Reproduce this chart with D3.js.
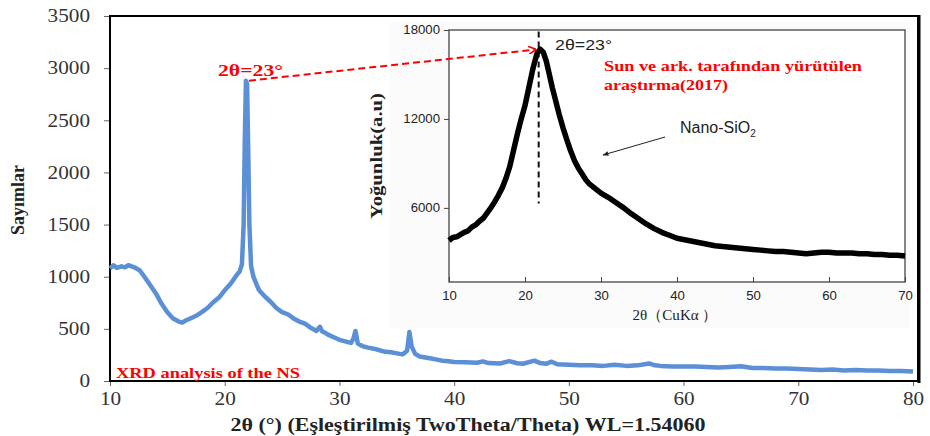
<!DOCTYPE html>
<html>
<head>
<meta charset="utf-8">
<script src="https://cdn.jsdelivr.net/npm/d3@7"></script>
<style>
  body { margin: 0; background: #fff; }
  svg { display: block; }
  .serif { font-family: "Liberation Serif", "Times New Roman", serif; }
  .sans { font-family: "Liberation Sans", Arial, sans-serif; }
</style>
</head>
<body>
<svg id="svg"></svg>
<script>
// colors
let blue = "#5b8fd6"
let red = "#ff0000"

// main XRD pattern
let mainX = [10, 10.3, 10.6, 11, 11.3, 11.6, 12, 12.3, 12.6, 13, 13.5, 14, 14.5, 15, 15.5, 16, 16.3, 16.6, 17, 17.5,
  18, 18.5, 19, 19.5, 20, 20.5, 21, 21.3, 21.5, 21.65, 21.75, 21.85, 21.95, 22.05, 22.15, 22.3, 22.5, 22.8, 23, 23.5,
  24, 24.5, 25, 25.5, 26, 26.5, 27, 27.5, 28, 28.3, 28.5, 28.8, 29, 29.5, 30, 30.5, 31, 31.2, 31.4, 31.6,
  32, 32.5, 33, 33.5, 34, 34.5, 35, 35.5, 35.9, 36.1, 36.3, 36.6, 37, 37.5, 38, 38.5, 39, 39.5, 40, 41,
  42, 42.5, 43, 44, 44.8, 45.5, 46, 47, 47.5, 48, 48.5, 49, 50, 51, 52, 53, 54, 55, 56, 57,
  57.5, 58, 59, 60, 61, 62, 63, 64, 65, 66, 67, 68, 69, 70, 71, 72, 73, 74, 75, 76, 77, 78, 79, 80];
let mainY = [1080, 1110, 1085, 1100, 1090, 1110, 1095, 1080, 1060, 1000, 920, 840, 740, 660, 600, 570, 560, 580, 600, 625,
  660, 700, 755, 800, 870, 930, 1010, 1050, 1120, 1500, 2300, 2880, 2850, 2200, 1500, 1100, 1000, 920, 870, 810,
  760, 700, 660, 640, 600, 570, 550, 510, 480, 520, 475, 460, 445, 420, 395, 380, 365, 400, 480, 360,
  335, 320, 310, 295, 280, 275, 265, 255, 290, 470, 330, 260, 235, 225, 215, 205, 195, 190, 182, 180,
  175, 188, 172, 168, 190, 170, 165, 195, 172, 165, 185, 160, 155, 150, 150, 145, 155, 145, 150, 168,
  150, 145, 140, 140, 140, 135, 130, 135, 142, 125, 125, 120, 120, 115, 110, 105, 110, 100, 105, 100, 100, 95, 95, 90];

// inset: Sun et al. nano-SiO2 pattern
let insetX = [10, 10.5, 11, 11.5, 12, 12.5, 13, 13.5, 14, 14.5, 15, 15.5, 16, 16.5, 17, 17.5, 18, 18.5, 19, 19.5,
  20, 20.5, 21, 21.3, 21.6, 22, 22.4, 22.8, 23.2, 23.6, 24, 24.5, 25, 25.5, 26, 26.5, 27, 27.5, 28, 28.5,
  29, 29.5, 30, 31, 32, 33, 34, 35, 36, 37, 38, 39, 40, 41, 42, 43, 44, 45, 46, 47,
  48, 49, 50, 51, 52, 53, 54, 55, 56, 57, 58, 59, 60, 61, 62, 63, 64, 65, 66, 67, 68, 69, 70];
let insetY = [3800, 4000, 4050, 4200, 4350, 4450, 4700, 4850, 5100, 5300, 5650, 6000, 6400, 6850, 7350, 8000, 8800, 9900, 11000, 12000,
  12900, 14100, 15300, 15900, 16450, 16700, 16500, 15900, 15000, 14100, 13300, 12300, 11400, 10600, 9850, 9200, 8700, 8300, 7900, 7600,
  7400, 7200, 7000, 6700, 6350, 6000, 5600, 5250, 4900, 4600, 4350, 4150, 3950, 3850, 3750, 3650, 3550, 3450, 3400, 3350,
  3300, 3250, 3200, 3150, 3100, 3050, 3050, 3000, 2950, 2900, 2950, 3000, 3000, 2950, 2950, 2950, 2900, 2900, 2850, 2850, 2800, 2800, 2750];

// tick values
let mainXTicks = [10, 20, 30, 40, 50, 60, 70, 80];
let mainYTicks = [0, 500, 1000, 1500, 2000, 2500, 3000, 3500];
let insetXTicks = [10, 20, 30, 40, 50, 60, 70];
let insetYTicks = [6000, 12000, 18000];

// peak positions used by annotations
let mainPeak = [21.85, 2880];
let insetPeak = [21.8, 16750];

let width = 930, height = 436;
let svg = d3.select("#svg").attr("width", width).attr("height", height);

// the source picture is stretched sideways, so widen text a bit
function stretch(sel, k) {
  sel.each(function () {
    let w = this.getComputedTextLength();
    d3.select(this).attr("textLength", w * k).attr("lengthAdjust", "spacingAndGlyphs");
  });
}

let defs = svg.append("defs");
defs.append("marker").attr("id", "redHead")
  .attr("viewBox", "0 0 10 10").attr("refX", 9).attr("refY", 5)
  .attr("markerWidth", 8).attr("markerHeight", 8).attr("orient", "auto")
  .attr("markerUnits", "userSpaceOnUse")
  .append("path").attr("d", "M0,0 L10,5 L0,10").attr("fill", "none").attr("stroke", red).attr("stroke-width", 2);
defs.append("marker").attr("id", "blackHead")
  .attr("viewBox", "0 0 10 10").attr("refX", 9).attr("refY", 5)
  .attr("markerWidth", 8).attr("markerHeight", 6).attr("orient", "auto")
  .attr("markerUnits", "userSpaceOnUse")
  .append("path").attr("d", "M0,1 L10,5 L0,9 Z").attr("fill", "#222");

// ---------- main chart ----------
let x = d3.scaleLinear().domain([10, 80]).range([110, 913]);
let y = d3.scaleLinear().domain([0, 3500]).range([381, 16]);

let gx = svg.append("g").attr("transform", "translate(0,381)")
  .call(d3.axisBottom(x).tickValues(mainXTicks).tickFormat(d3.format("d")).tickSize(5).tickPadding(6));
let gy = svg.append("g").attr("transform", "translate(110,0)")
  .call(d3.axisLeft(y).tickValues(mainYTicks).tickFormat(d3.format("d")).tickSize(6).tickPadding(14));
[gx, gy].forEach(function (g) {
  g.select(".domain").remove();
  g.selectAll("line").attr("stroke", "#666");
  g.selectAll("text").attr("class", "serif").attr("font-size", 18).attr("fill", "#333").call(stretch, 1.18);
});

// frame
svg.append("rect")
  .attr("x", 110).attr("y", 16).attr("width", 808).attr("height", 365)
  .attr("fill", "none").attr("stroke", "#000").attr("stroke-width", 2);
svg.append("line").attr("x1", 919).attr("x2", 919).attr("y1", 15).attr("y2", 383)
  .attr("stroke", "#000").attr("stroke-width", 3);

let mainData = mainX.map(function (d, i) { return [d, mainY[i]]; });
svg.append("path")
  .datum(mainData)
  .attr("fill", "none")
  .attr("stroke", blue)
  .attr("stroke-width", 4.5)
  .attr("stroke-linejoin", "round")
  .attr("d", d3.line().x(function (d) { return x(d[0]); }).y(function (d) { return y(d[1]); }));

svg.append("text").attr("class", "serif")
  .attr("transform", "translate(24,200) rotate(-90)")
  .attr("text-anchor", "middle").attr("font-size", 18).attr("font-weight", "bold").attr("fill", "#222")
  .text("Sayımlar");
svg.append("text").attr("class", "serif")
  .attr("x", 468).attr("y", 431)
  .attr("text-anchor", "middle").attr("font-size", 18).attr("font-weight", "bold").attr("fill", "#222")
  .attr("textLength", 475).attr("lengthAdjust", "spacingAndGlyphs")
  .text("2θ (°) (Eşleştirilmiş TwoTheta/Theta) WL=1.54060");

svg.append("text").attr("class", "serif")
  .attr("x", 116).attr("y", 378).attr("font-size", 15).attr("font-weight", "bold").attr("fill", red)
  .attr("textLength", 184).attr("lengthAdjust", "spacingAndGlyphs")
  .text("XRD analysis of the NS");

// ---------- inset ----------
let ix = d3.scaleLinear().domain([10, 70]).range([449, 905]);
let iy = d3.scaleLinear().domain([1000, 18000]).range([282, 30]);

svg.append("rect").attr("x", 390).attr("y", 22).attr("width", 520).attr("height", 306)
  .attr("fill", "#fbfbfb");
svg.append("rect").attr("x", 449).attr("y", 30).attr("width", 456).attr("height", 252)
  .attr("fill", "#fff").attr("stroke", "#444").attr("stroke-width", 1.3);

let igx = svg.append("g").attr("transform", "translate(0,282)")
  .call(d3.axisBottom(ix).tickValues(insetXTicks).tickFormat(d3.format("d")).tickSize(-5).tickPadding(9));
let igy = svg.append("g").attr("transform", "translate(449,0)")
  .call(d3.axisLeft(iy).tickValues(insetYTicks).tickFormat(d3.format("d")).tickSize(5).tickPadding(4));
[igx, igy].forEach(function (g) {
  g.select(".domain").remove();
  g.selectAll("line").attr("stroke", "#444");
  g.selectAll("text").attr("class", "sans").attr("font-size", 12).attr("fill", "#222").call(stretch, 1.1);
});

// dashed peak line
svg.append("line")
  .attr("x1", ix(insetPeak[0])).attr("x2", ix(insetPeak[0]))
  .attr("y1", iy(17900)).attr("y2", iy(6300))
  .attr("stroke", "#111").attr("stroke-width", 2).attr("stroke-dasharray", "6,4");

let insetData = insetX.map(function (d, i) { return [d, insetY[i]]; });
svg.append("path")
  .datum(insetData)
  .attr("fill", "none")
  .attr("stroke", "#000")
  .attr("stroke-width", 5.5)
  .attr("stroke-linejoin", "round")
  .attr("d", d3.line().x(function (d) { return ix(d[0]); }).y(function (d) { return iy(d[1]); }));

svg.append("text").attr("class", "serif")
  .attr("transform", "translate(382,156) rotate(-90)")
  .attr("text-anchor", "middle").attr("font-size", 16).attr("font-weight", "bold").attr("fill", "#222")
  .attr("textLength", 126).attr("lengthAdjust", "spacingAndGlyphs")
  .text("Yoğunluk(a.u)");
svg.append("text").attr("class", "serif")
  .attr("x", 675).attr("y", 320).attr("text-anchor", "middle").attr("font-size", 15).attr("fill", "#222")
  .attr("textLength", 85).attr("lengthAdjust", "spacingAndGlyphs")
  .text("2θ（CuKα ）");

svg.append("text").attr("class", "sans")
  .attr("x", 555).attr("y", 50).attr("font-size", 15).attr("fill", "#222")
  .attr("textLength", 57).attr("lengthAdjust", "spacingAndGlyphs")
  .text("2θ=23°");

let nano = svg.append("text").attr("class", "sans")
  .attr("x", 680).attr("y", 133).attr("font-size", 16).attr("fill", "#222");
nano.append("tspan").text("Nano-SiO");
nano.append("tspan").attr("font-size", 10).attr("dy", 4).text("2");
svg.append("line")
  .attr("x1", 665).attr("y1", 137).attr("x2", 603).attr("y2", 155)
  .attr("stroke", "#222").attr("stroke-width", 1).attr("marker-end", "url(#blackHead)");

svg.append("text").attr("class", "serif")
  .attr("x", 604).attr("y", 71).attr("font-size", 15).attr("font-weight", "bold").attr("fill", red)
  .attr("textLength", 258).attr("lengthAdjust", "spacingAndGlyphs")
  .text("Sun ve ark. tarafından  yürütülen");
svg.append("text").attr("class", "serif")
  .attr("x", 604).attr("y", 90).attr("font-size", 15).attr("font-weight", "bold").attr("fill", red)
  .attr("textLength", 124).attr("lengthAdjust", "spacingAndGlyphs")
  .text("araştırma(2017)");

// ---------- red link from main peak to inset peak ----------
svg.append("text").attr("class", "serif")
  .attr("x", 218).attr("y", 76).attr("font-size", 17).attr("font-weight", "bold").attr("fill", red)
  .attr("textLength", 65).attr("lengthAdjust", "spacingAndGlyphs")
  .text("2θ=23°");
svg.append("line")
  .attr("x1", x(mainPeak[0]) + 3).attr("y1", y(mainPeak[1]))
  .attr("x2", ix(insetPeak[0]) - 3).attr("y2", iy(insetPeak[1]) + 1)
  .attr("stroke", red).attr("stroke-width", 2).attr("stroke-dasharray", "7,4")
  .attr("marker-end", "url(#redHead)");
</script>
</body>
</html>
